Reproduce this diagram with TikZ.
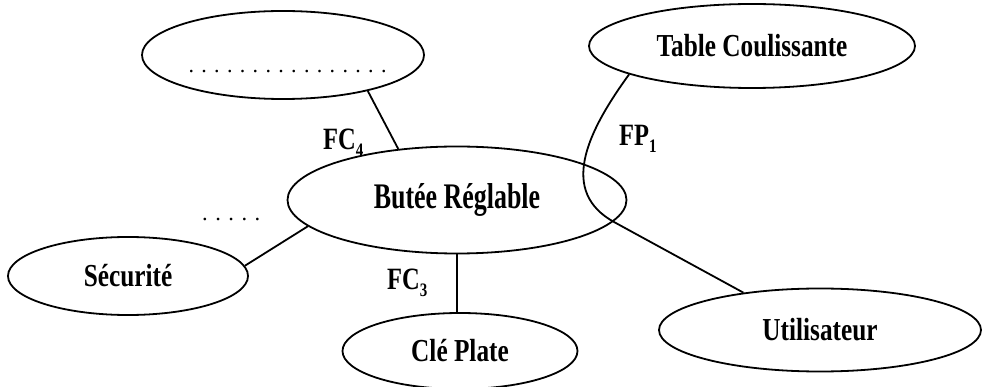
\documentclass[tikz,border=0pt]{standalone}
\usepackage{fontspec}
\setmainfont{Liberation Serif}
% condensed bold serif for the labels
\newfontfamily\lblfont[FakeStretch=0.79]{Liberation Serif}
\newfontfamily\bigfont[FakeStretch=0.72]{Liberation Serif}
\usetikzlibrary{shapes.geometric}

% lowered index after a function name
\newcommand\fnidx[1]{\raisebox{-0.22em}{\fontsize{19}{19}\selectfont #1}}

\tikzset{
  bubble/.style={ellipse, draw, line width=1.8pt, inner sep=0pt,
    font=\lblfont\bfseries\fontsize{32}{32}\selectfont},
  link/.style={line width=1.8pt},
  fnlabel/.style={font=\lblfont\bfseries\fontsize{31}{31}\selectfont,
    inner sep=0pt, anchor=base west},
  dotrow/.style={inner sep=0pt, anchor=base},
}

\begin{document}
\begin{tikzpicture}[x=1pt, y=-1pt]
\useasboundingbox (0,0) rectangle (982,387);

% elements
\node[bubble, minimum width=282pt, minimum height=88pt] (blank) at (283,55) {};
\node[bubble, minimum width=326pt, minimum height=84pt] (tc) at (752,46) {Table Coulissante};
\node[bubble, font=\bigfont\bfseries\fontsize{36}{36}\selectfont,
      minimum width=339pt, minimum height=107pt] (bt) at (457,200) {Butée Réglable};
\node[bubble, minimum width=240pt, minimum height=78pt] (sec) at (128,276) {Sécurité};
\node[bubble, minimum width=235pt, minimum height=76pt] (cle) at (460,351) {Clé Plate};
\node[bubble, minimum width=322pt, minimum height=83pt] (usr) at (820,330) {Utilisateur};

% placeholder dots
\node[dotrow, font=\fontsize{22}{22}\selectfont] (dots1) at (287.5,72.5)
  {. . . . . . . . . . . . . . . .};
\node[dotrow, font=\fontsize{22.5}{22.5}\selectfont] (dots2) at (231.3,220.5)
  {. . . . .};

% connectors
\draw[link] (blank.337) -- (bt.139);
\draw[link] (sec.5) -- (bt.190);
\draw[link] (bt.south) -- (bt.south |- cle.north);
\coordinate (k1) at (585,135);
\coordinate (k2) at (560,192);
\coordinate (kb) at (614,222);
\draw[link] (tc.193) .. controls (k1) and (k2) .. (kb) -- (usr.154);

% function labels
\node[fnlabel] (fc4) at (323,150) {FC\fnidx{4}};
\node[fnlabel] (fp1) at (619,146) {FP\fnidx{1}};
\node[fnlabel] (fc3) at (387,290) {FC\fnidx{3}};
\end{tikzpicture}
\end{document}
